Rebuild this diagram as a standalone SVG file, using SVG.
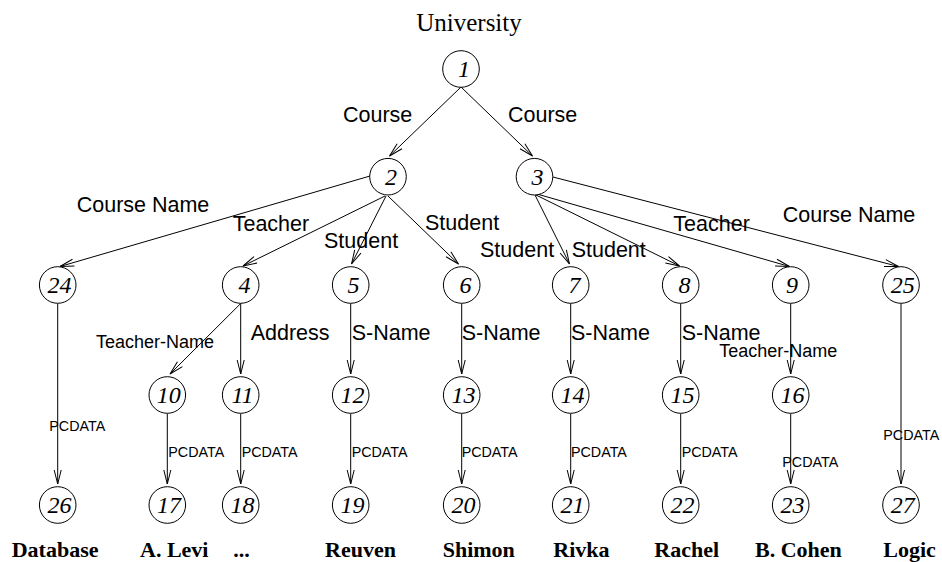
<svg xmlns="http://www.w3.org/2000/svg" width="942" height="562" viewBox="0 0 942 562">
<style>
.bg{fill:#fff}
.n circle{fill:#fff;stroke:#000;stroke-width:1}
.n text{font-family:"Liberation Serif","Times New Roman",serif;font-style:italic;font-size:24px;text-anchor:middle;fill:#000}
.e line{stroke:#000;stroke-width:1;fill:none;marker-end:url(#arr)}
.lb{font-family:"Liberation Sans",Arial,sans-serif;font-size:21.5px;fill:#000}
.ls{font-family:"Liberation Sans",Arial,sans-serif;font-size:18px;fill:#000}
.lp{font-family:"Liberation Sans",Arial,sans-serif;font-size:14.3px;fill:#000}
.val{font-family:"Liberation Serif","Times New Roman",serif;font-weight:bold;font-size:22px;fill:#000}
.title{font-family:"Liberation Serif","Times New Roman",serif;font-size:25px;fill:#000;text-anchor:middle}
</style>
<defs>
<marker id="arr" viewBox="-15 -5 16 10" refX="0" refY="0" markerWidth="16" markerHeight="10" markerUnits="userSpaceOnUse" orient="auto">
<path d="M-14,-3.5 L0,0 L-14,3.5" fill="none" stroke="#000" stroke-width="1"/>
</marker>
</defs>
<rect class="bg" x="0" y="0" width="942" height="562"/>
<text class="title" x="469" y="31">University</text>

<g id="connectors" class="e">
<line x1="461" y1="87" x2="389.5" y2="156"/>
<line x1="461" y1="87" x2="532.5" y2="156"/>
<line x1="370" y1="176" x2="60" y2="266.5"/>
<line x1="385" y1="196" x2="243" y2="266"/>
<line x1="386" y1="196" x2="351.5" y2="264"/>
<line x1="388" y1="196" x2="458.5" y2="264"/>
<line x1="535" y1="195" x2="569.5" y2="264"/>
<line x1="536" y1="195" x2="679.5" y2="266"/>
<line x1="537" y1="194" x2="789.5" y2="266.5"/>
<line x1="553" y1="177" x2="898.5" y2="266.5"/>
<line x1="240.7" y1="303.5" x2="170" y2="374"/>
<line x1="240.7" y1="303.5" x2="240.7" y2="374"/>
<line x1="350.7" y1="303.5" x2="350.7" y2="374"/>
<line x1="461.7" y1="303.5" x2="461.7" y2="374"/>
<line x1="570.7" y1="303.5" x2="570.7" y2="374"/>
<line x1="680.7" y1="303.5" x2="680.7" y2="374"/>
<line x1="790.7" y1="303.5" x2="790.7" y2="374"/>
<line x1="57.7" y1="303.5" x2="57.7" y2="484"/>
<line x1="901" y1="303.5" x2="901" y2="484"/>
<line x1="167.3" y1="413.5" x2="167.3" y2="484"/>
<line x1="240.7" y1="413.5" x2="240.7" y2="484"/>
<line x1="350.7" y1="413.5" x2="350.7" y2="484"/>
<line x1="461.7" y1="413.5" x2="461.7" y2="484"/>
<line x1="570.7" y1="413.5" x2="570.7" y2="484"/>
<line x1="680.7" y1="413.5" x2="680.7" y2="484"/>
<line x1="790.7" y1="413.5" x2="790.7" y2="484"/>
</g>

<g id="edge-labels">
<text class="lb" x="343" y="122">Course</text>
<text class="lb" x="508" y="122">Course</text>
<text class="lb" x="76.7" y="212.3">Course Name</text>
<text class="lb" x="232.7" y="230.7">Teacher</text>
<text class="lb" x="324" y="248.3">Student</text>
<text class="lb" x="425" y="230">Student</text>
<text class="lb" x="480" y="256.7">Student</text>
<text class="lb" x="571.7" y="256.7">Student</text>
<text class="lb" x="673.3" y="230.7">Teacher</text>
<text class="lb" x="782.7" y="221.7">Course Name</text>
<text class="ls" x="96" y="348.3">Teacher-Name</text>
<text class="lb" x="250.7" y="340">Address</text>
<text class="lb" x="351.7" y="340">S-Name</text>
<text class="lb" x="461.7" y="340">S-Name</text>
<text class="lb" x="571" y="340">S-Name</text>
<text class="lb" x="681.7" y="340">S-Name</text>
<text class="ls" x="719.3" y="356.7">Teacher-Name</text>
<text class="lp" x="49.3" y="430.7">PCDATA</text>
<text class="lp" x="168.3" y="457.3">PCDATA</text>
<text class="lp" x="241.7" y="457.3">PCDATA</text>
<text class="lp" x="351.7" y="457.3">PCDATA</text>
<text class="lp" x="461.7" y="457.3">PCDATA</text>
<text class="lp" x="571" y="457.3">PCDATA</text>
<text class="lp" x="681.7" y="457.3">PCDATA</text>
<text class="lp" x="782.3" y="466.7">PCDATA</text>
<text class="lp" x="883.3" y="440">PCDATA</text>
</g>

<g id="n1" class="n"><circle cx="461" cy="69" r="18.3"/><text x="464" y="77">1</text></g>
<g id="n2" class="n"><circle cx="388" cy="176.7" r="18.3"/><text x="391" y="184.7">2</text></g>
<g id="n3" class="n"><circle cx="534.5" cy="176.7" r="18.3"/><text x="537.5" y="184.7">3</text></g>
<g id="n24" class="n"><circle cx="57.7" cy="285" r="18.3"/><text x="59.5" y="293">24</text></g>
<g id="n4" class="n"><circle cx="240.7" cy="285" r="18.3"/><text x="244.5" y="293">4</text></g>
<g id="n5" class="n"><circle cx="350.7" cy="285" r="18.3"/><text x="353.5" y="293">5</text></g>
<g id="n6" class="n"><circle cx="461.7" cy="285" r="18.3"/><text x="465.5" y="293">6</text></g>
<g id="n7" class="n"><circle cx="570.7" cy="285" r="18.3"/><text x="574.5" y="293">7</text></g>
<g id="n8" class="n"><circle cx="680.7" cy="285" r="18.3"/><text x="684.5" y="293">8</text></g>
<g id="n9" class="n"><circle cx="790.7" cy="285" r="18.3"/><text x="792" y="293">9</text></g>
<g id="n25" class="n"><circle cx="901" cy="285" r="18.3"/><text x="902.8" y="293">25</text></g>
<g id="n10" class="n"><circle cx="167.3" cy="395" r="18.3"/><text x="168.8" y="403">10</text></g>
<g id="n11" class="n"><circle cx="240.7" cy="395" r="18.3"/><text x="242.5" y="403">11</text></g>
<g id="n12" class="n"><circle cx="350.7" cy="395" r="18.3"/><text x="352.5" y="403">12</text></g>
<g id="n13" class="n"><circle cx="461.7" cy="395" r="18.3"/><text x="463.5" y="403">13</text></g>
<g id="n14" class="n"><circle cx="570.7" cy="395" r="18.3"/><text x="572.5" y="403">14</text></g>
<g id="n15" class="n"><circle cx="680.7" cy="395" r="18.3"/><text x="682.5" y="403">15</text></g>
<g id="n16" class="n"><circle cx="790.7" cy="395" r="18.3"/><text x="792.5" y="403">16</text></g>
<g id="n26" class="n"><circle cx="57.7" cy="505" r="18.3"/><text x="59.5" y="513">26</text></g>
<g id="n17" class="n"><circle cx="167.3" cy="505" r="18.3"/><text x="169" y="513">17</text></g>
<g id="n18" class="n"><circle cx="240.7" cy="505" r="18.3"/><text x="242.5" y="513">18</text></g>
<g id="n19" class="n"><circle cx="350.7" cy="505" r="18.3"/><text x="352.5" y="513">19</text></g>
<g id="n20" class="n"><circle cx="461.7" cy="505" r="18.3"/><text x="463.5" y="513">20</text></g>
<g id="n21" class="n"><circle cx="570.7" cy="505" r="18.3"/><text x="572.5" y="513">21</text></g>
<g id="n22" class="n"><circle cx="680.7" cy="505" r="18.3"/><text x="682.5" y="513">22</text></g>
<g id="n23" class="n"><circle cx="790.7" cy="505" r="18.3"/><text x="792.5" y="513">23</text></g>
<g id="n27" class="n"><circle cx="901" cy="505" r="18.3"/><text x="902.8" y="513">27</text></g>

<g id="values">
<text class="val" x="11.7" y="556.5">Database</text>
<text class="val" x="140" y="556.5">A. Levi</text>
<text class="val" x="233.3" y="556.5">...</text>
<text class="val" x="325" y="556.5">Reuven</text>
<text class="val" x="442.7" y="556.5">Shimon</text>
<text class="val" x="553.3" y="556.5">Rivka</text>
<text class="val" x="654.3" y="556.5">Rachel</text>
<text class="val" x="755" y="556.5">B. Cohen</text>
<text class="val" x="883.3" y="556.5">Logic</text>
</g>
</svg>
